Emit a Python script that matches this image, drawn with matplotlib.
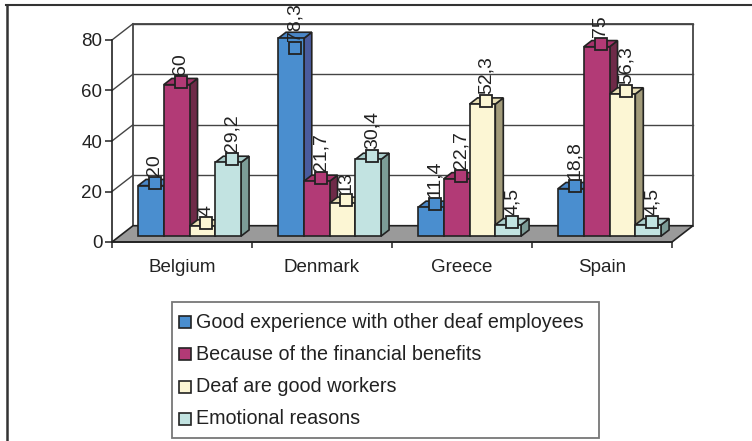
import matplotlib
matplotlib.use("Agg")
import matplotlib.pyplot as plt
from matplotlib.patches import Polygon, Rectangle
from matplotlib.lines import Line2D

plt.rcParams['font.family'] = ['Liberation Sans', 'DejaVu Sans']

# data
countries = ['Belgium', 'Denmark', 'Greece', 'Spain']
series_names = ['Good experience with other deaf employees',
                'Because of the financial benefits',
                'Deaf are good workers',
                'Emotional reasons']
good_experience = [20, 78.3, 11.4, 18.8]
financial = [60, 21.7, 22.7, 75]
good_workers = [4, 13, 52.3, 56.3]
emotional = [29.2, 30.4, 4.5, 4.5]
series = [good_experience, financial, good_workers, emotional]
y_ticks = [0, 20, 40, 60, 80]

# front / top / side shades for each series
front_cols = ['#4A8ECF', '#B23A76', '#FCF6D4', '#C2E3E1']
top_cols = ['#4A86C6', '#A6326A', '#E8DFB4', '#AACDCB']
side_cols = ['#4A5C9E', '#6E2A48', '#A29B7A', '#7C9C97']
edge = '#222222'
txt_col = '#222222'

W, H = 752, 441
fig = plt.figure(figsize=(W / 100, H / 100), dpi=100)


def fx(px):
    return px / W


def fy(py):
    return 1 - py / H


# front plane of the plot: x 112..672 px, y 242 (0) .. 40 (80)
ax = fig.add_axes([fx(112), fy(242), fx(672) - fx(112), fy(40) - fy(242)])
ax.set_xlim(0, 4)
ax.set_ylim(0, 80)
ax.patch.set_visible(False)

# depth vector of the 3D box in data units
DX, DY = 0.15, 6.45
d0, d1 = 0.36, 0.74
bw = 0.184
grid_col = '#444444'

# back wall, side wall grid lines and floor
ax.add_patch(Rectangle((DX, DY), 4, 80, facecolor='white', edgecolor=grid_col,
                       lw=1.3, clip_on=False, zorder=0))
for v in y_ticks[1:]:
    ax.plot([DX, 4 + DX], [v + DY, v + DY], color=grid_col, lw=1.0,
            clip_on=False, zorder=0.5)
    ax.plot([0, DX], [v, v + DY], color=grid_col, lw=1.0,
            clip_on=False, zorder=0.5)
ax.add_patch(Polygon([(0, 0), (4, 0), (4 + DX, DY), (DX, DY)], closed=True,
                     facecolor='#9A9A9A', edgecolor=edge, lw=1.2,
                     clip_on=False, zorder=1))

# bars with side, top and front faces
ddx, ddy = (d1 - d0) * DX, (d1 - d0) * DY
z = 2
labels = []
for i in range(len(countries)):
    for j, vals in enumerate(series):
        v = vals[i]
        xl = i + 0.132 + j * bw + d0 * DX
        xr = xl + bw
        b = d0 * DY
        t = b + v
        ax.add_patch(Polygon([(xr, b), (xr + ddx, b + ddy), (xr + ddx, t + ddy), (xr, t)],
                             closed=True, facecolor=side_cols[j], edgecolor=edge,
                             lw=1.2, clip_on=False, zorder=z))
        ax.add_patch(Polygon([(xl, t), (xr, t), (xr + ddx, t + ddy), (xl + ddx, t + ddy)],
                             closed=True, facecolor=top_cols[j], edgecolor=edge,
                             lw=1.2, clip_on=False, zorder=z))
        ax.bar(xl, v, width=bw, bottom=b, align='edge', color=front_cols[j],
               edgecolor=edge, lw=1.2, clip_on=False, zorder=z + 0.1)
        cx = xl + bw / 2 + ddx / 2
        cy = t + ddy / 2
        mk, = ax.plot(cx, cy, marker='s', ms=8.5, mfc=front_cols[j], mec=edge,
                      mew=1.3, clip_on=False, zorder=z + 0.2)
        tx = ax.text(cx, t + ddy + 1.5, f"{v:g}".replace('.', ','), rotation=90,
                     ha='center', va='bottom', fontsize=14, color=txt_col,
                     clip_on=False, zorder=z + 0.3)
        labels.append((tx, mk))
        z += 0.5

# axes, ticks and category labels
for s in ['top', 'right']:
    ax.spines[s].set_visible(False)
ax.spines['left'].set_color(edge)
ax.spines['bottom'].set_color(edge)
ax.spines['left'].set_linewidth(1.2)
ax.spines['bottom'].set_linewidth(1.2)
ax.spines['bottom'].set_zorder(1.5)
ax.set_yticks(y_ticks)
ax.tick_params(axis='y', length=5, width=1.1, color=edge, pad=2,
               labelsize=13.5, labelcolor=txt_col)
ax.set_xticks([i + 0.5 for i in range(len(countries))])
ax.set_xticklabels(countries)
ax.set_xticks(range(len(countries) + 1), minor=True)
ax.tick_params(axis='x', which='major', length=0, pad=12, labelsize=13.5,
               labelcolor=txt_col)
ax.tick_params(axis='x', which='minor', length=4, width=1.1, color=edge)

# legend
fig.add_artist(Rectangle((fx(172), fy(438)), fx(599) - fx(172), fy(302) - fy(438),
                         transform=fig.transFigure, facecolor='white',
                         edgecolor='#777777', lw=1.3))
for k, name in enumerate(series_names):
    yc = 322 + k * 32.3
    fig.add_artist(Rectangle((fx(179), fy(yc + 6)), fx(12), fy(yc - 6) - fy(yc + 6),
                             transform=fig.transFigure, facecolor=front_cols[k],
                             edgecolor=edge, lw=1.2))
    fig.text(fx(196), fy(yc), name, ha='left', va='center', fontsize=14.2,
             color=txt_col)

# labels that would run past the top frame are pushed down with their key
fig.canvas.draw()
renderer = fig.canvas.get_renderer()
px_per_unit = ax.transData.transform((0, 1))[1] - ax.transData.transform((0, 0))[1]
top_limit = H - 3
for tx, mk in labels:
    bb = tx.get_window_extent(renderer)
    if bb.y1 > top_limit:
        shift = (bb.y1 - top_limit) / px_per_unit
        x, y = tx.get_position()
        tx.set_position((x, y - shift))
        mx, my = mk.get_data()
        mk.set_data(mx, [my[0] - shift])

# outer frame (top and left edges); text above the top line is hidden
fig.add_artist(Rectangle((0, fy(5)), 1, 1 - fy(5), transform=fig.transFigure,
                         facecolor='white', edgecolor='none', zorder=20))
fig.add_artist(Line2D([fx(6), 1], [fy(5), fy(5)], transform=fig.transFigure,
                      color='#333333', lw=1.5, zorder=21))
fig.add_artist(Line2D([fx(7), fx(7)], [fy(5), 0], transform=fig.transFigure,
                      color='#333333', lw=1.8, zorder=21))

fig.savefig('out.png', dpi=100)
